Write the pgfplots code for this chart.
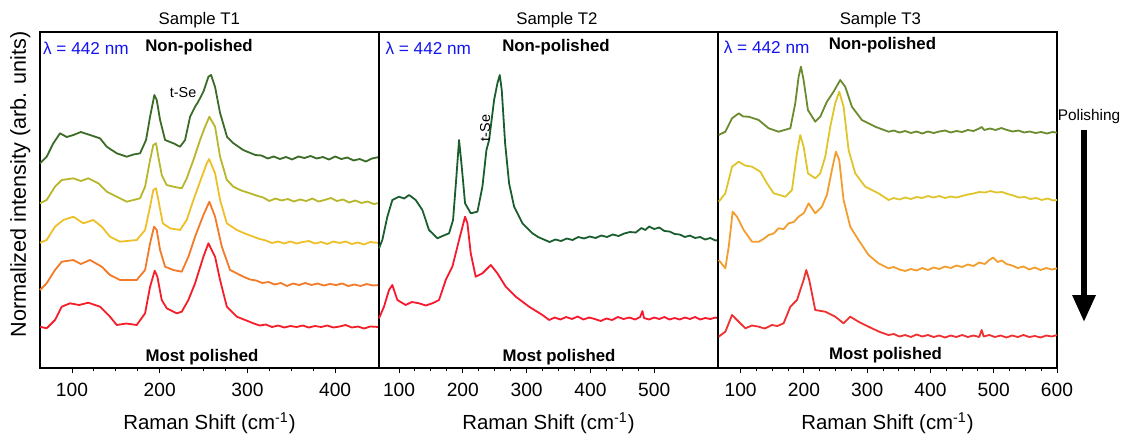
\documentclass[border=0pt]{standalone}
\usepackage{fontspec}
\setmainfont{Liberation Sans}
\usepackage{pgfplots}
\pgfplotsset{compat=1.18}
\usetikzlibrary{arrows.meta}
\definecolor{pA}{RGB}{58,108,40}
\definecolor{pB}{RGB}{184,182,42}
\definecolor{pC}{RGB}{238,192,40}
\definecolor{pD}{RGB}{243,122,40}
\definecolor{pE}{RGB}{244,30,40}
\definecolor{qA}{RGB}{26,94,46}
\definecolor{qB}{RGB}{246,24,44}
\definecolor{rA}{RGB}{106,140,46}
\definecolor{rB}{RGB}{224,196,44}
\definecolor{rC}{RGB}{242,158,46}
\definecolor{rD}{RGB}{240,48,48}
\definecolor{lamblue}{RGB}{20,20,240}
\pgfplotsset{
  panel/.style={
    scale only axis, width=169.5pt, height=168pt, anchor=south west,
    ymin=0, ymax=336, ytick=\empty,
    axis line style={line width=0.7pt},
    tick align=outside, xtick pos=left,
    major tick length=2.5pt, minor tick length=1.5pt,
    minor x tick num=3,
    every tick/.style={black, line width=0.5pt},
    /pgf/number format/assume math mode=true,
    ticklabel style={font=\fontsize{9.6}{11}\selectfont},
    xticklabel style={yshift=-1.5pt},
    xlabel={Raman Shift (cm\textsuperscript{-1})},
    xlabel style={font=\fontsize{10.2}{12}\selectfont, at={(axis description cs:0.5,-0.164)}, anchor=center},
    every axis plot/.style={line width=0.9pt, line join=round},
  }
}
\newcommand{\lam}{\fontsize{8.6}{10}\selectfont\color{lamblue}λ = 442 nm}
\newcommand{\bt}[1]{\fontsize{8.4}{10}\selectfont\bfseries #1}
\newcommand{\ttl}[2]{\node[inner sep=0pt, font=\fontsize{8.4}{10}\selectfont] at (rel axis cs:#1,1.036) {#2};}
\begin{document}
\begin{tikzpicture}
\useasboundingbox (0,0) rectangle (564pt,218pt);
% Panel 1
\begin{axis}[panel, at={(20pt,34pt)}, xmin=63.5, xmax=450, xtick={100,200,300,400},
  clip=false,
  ylabel={Normalized intensity (arb. units)},
  ylabel style={font=\fontsize{10.8}{12}\selectfont, at={(axis description cs:-0.058,0.546)}, anchor=center, rotate=0}]
\addplot[pA] coordinates {(63.5,204.7)(71.1,211.3)(78.7,224.7)(86.3,234.7)(94,231)(101.5,233)(110,236)(120.5,233)(131.9,229.7)(139.6,221.3)(151.0,214.7)(162.4,211.3)(170,213.5)(177.6,214.7)(184.4,228)(189.0,251.3)(193.9,273)(196.6,268)(200.4,248)(206.1,228)(215.6,224.7)(223.2,221.3)(228.9,228)(234.6,251.3)(240.3,261.3)(243.7,266)(249.8,276.3)(255.5,291.3)(258.6,293)(263.1,281)(268.8,255)(276.8,231)(283.7,225)(295.1,218)
(302,215.5)(309,213)(316,212.5)(323,209.5)(330,211.5)(337,209)(344,211)(351,208.5)(358,211.5)(365,210)(372,212)(379,209.5)(386,211)(393,208.5)(400,211.5)(407,209)(414,210.5)(421,207.5)(428,209)(435,206.5)(442,209.5)(450,211)};
\addplot[pB] coordinates {(63.5,164.7)(71.1,168)(80.6,181.3)(88.3,188)(101.5,189.7)(110,187)(118.6,189.7)(130.0,184.7)(139.6,176.3)(151.0,171.3)(162.4,166.3)(177.6,169.7)(183.3,181.3)(189.0,208)(192.7,223)(195.8,224.7)(198.4,211.3)(202.3,193)(208.0,183)(215.6,181.3)(225.1,179.7)(230.8,189.7)(238.4,208)(246.0,228)(251.7,241.3)(256.6,251.3)(263.1,241.3)(268.8,211.3)(276.5,188)(284.0,181.3)(293,177.5)(303.0,174.7)
(310,172.5)(318,170.5)(325,167)(332,169.5)(339,167.5)(346,169)(353,166.5)(360,168.5)(367,167)(374,169.5)(381,166.5)(388,168)(395,170)(402,167)(409,168.5)(416,165.5)(423,167.5)(430,165)(437,166.5)(444,164)(450,165)};
\addplot[pC] coordinates {(63.5,125.3)(71.1,128)(80.6,141.3)(90.1,148)(101.5,151.3)(112.9,144.7)(124.3,148)(133.9,141.3)(143.3,131.3)(154.8,126.3)(173.8,128)(183.3,138)(189.0,161.3)(192.7,178)(195.8,179.7)(198.4,168)(203.5,144.7)(211.8,139.7)(223.2,138)(230.8,148)(238.4,168)(248.0,191.3)(253.7,204.7)(256.3,209)(263.1,194.7)(268.8,168)(276.5,144.7)(287.9,138)
(297,134.5)(306.8,131.3)(314,129)(321,127.5)(328,125)(335,126.5)(342,124.5)(349,126.5)(356,124.5)(363,126)(370,127)(377,124.5)(384,126)(391,124)(398,126.5)(405,125)(412,126.5)(419,124)(426,125.5)(433,123.5)(440,126)(450,125)};
\addplot[pD] coordinates {(63.5,78)(71.1,84.7)(80.6,98)(88.3,106.3)(101.5,108)(110,104)(120.5,108)(133.9,101.3)(143.3,93)(154.8,88)(173.8,88)(183.3,98)(189.0,124.7)(193.5,141.3)(196.6,138)(200.4,118)(206.1,101.3)(215.6,98)(225.1,96.3)(232.7,111.3)(240.3,131.3)(249.8,153)(256.6,166.3)(263.1,151.3)(270.8,121.3)(280.2,98)(295.4,91.3)
(303,88.5)(310,87.5)(317,85)(324,86)(331,83.5)(338,85)(345,82)(352,84.5)(359,83)(366,85)(373,83)(380,84.5)(387,82.5)(394,84)(401,83)(408,84.5)(415,82)(422,83.5)(429,82)(436,84)(443,82.5)(450,83)};
\addplot[pE] coordinates {(63.5,41.3)(71.1,39.7)(80.6,48)(88.3,61.3)(97.7,64.7)(108,63)(118.6,65.3)(131.9,61.3)(143.3,51.3)(151.0,43)(162,44.5)(173.8,43)(183.3,54.7)(189.0,81.3)(194.3,97.3)(197.3,91.3)(202.3,68)(208.0,59.7)(219.4,54.7)(225.1,56.3)(232.7,68)(240.3,84.7)(249.8,111.3)(255.5,124.7)(263.1,111.3)(268.8,88)(276.5,61.3)(287.9,51.3)(306.8,44.7)
(314,42.5)(321,43.5)(328,41)(335,42.5)(342,40.5)(349,42)(356,41)(363,42.5)(370,40.5)(377,42)(384,41)(391,42.5)(398,40.5)(405,41.5)(412,43)(419,40.5)(426,41.5)(433,39.5)(440,41.5)(450,41)};
\node[anchor=west, inner sep=0pt] at (rel axis cs:0.008,0.952) {\lam};
\node[inner sep=0pt] at (rel axis cs:0.469,0.955) {\bt{Non-polished}};
\node[inner sep=0pt] at (rel axis cs:0.478,0.033) {\bt{Most polished}};
\node[inner sep=0pt, font=\fontsize{7.2}{8}\selectfont] at (rel axis cs:0.422,0.821) {t-Se};
\ttl{0.47}{Sample T1}
\end{axis}
% Panel 2
\begin{axis}[panel, at={(189.5pt,34pt)}, xmin=68.6, xmax=600, xtick={100,200,300,400,500}, clip=false]
\addplot[qA] coordinates {(68.6,119.7)(73.8,128)(81.7,151.3)(89.5,168)(100,171.3)(108,169.5)(115.7,173)(126.1,168)(136.6,158)(147.0,138)(160.1,129.7)(170,132.5)(178.4,134.7)(184.7,148)(189.9,191.3)(194.1,228)(198.3,201.3)(203.5,164.7)(212.4,154.7)(222.9,156.3)(230.7,181.3)(237.0,218)(241.2,228)(249.0,268)(254.2,284.7)(257.9,293)(261.0,278)(266.3,224.7)(272.5,184.7)(280.4,161.3)(293.5,144.7)(309.1,134.7)
(318,131)(327,128.5)(336,126)(345,128.5)(354,127)(363,129.5)(372,128)(381,131)(390,129.5)(399,131.5)(408,130)(417,132.5)(426,131)(435,133.5)(444,132)(453,134.5)(462,136)(471,135.5)(480,140)(486,138)(492,141.5)(500,139)(508,140.5)(516,137)(524,136.5)(532,134)(540,133.5)(548,131)(556,132.5)(564,130)(572,131)(580,128.5)(588,130)(596,127.5)(600,128)};
\addplot[qB] coordinates {(68.6,49.7)(76.4,61.3)(84.3,78)(89.5,83)(97.4,68)(110.4,63)(120,66)(131.3,64.7)(142,62.5)(152.3,64.7)(162.7,68)(173.2,88)(183.6,101.3)(194.1,128)(203.5,151.3)(207.2,144.7)(212.4,114.7)(220.2,91.3)(230.7,94.7)(243.8,103)(254.2,94.7)(267.3,81.3)(283.0,71.3)(303.9,61.3)(324.8,53)(335.3,48)
(344,50.5)(353,48.5)(362,51)(371,49)(380,51.5)(389,48.5)(398,50.5)(407,49)(416,47)(425,49.5)(434,48)(443,51)(452,49)(461,50.5)(470,48.5)(478,51)(481.5,57)(484,50)(492,48.5)(500,50.5)(508,49)(516,51)(524,48.5)(532,50)(540,48.5)(548,50.5)(556,49)(564,51)(572,48.5)(580,50)(588,49)(596,50.5)(600,49.7)};
\node[anchor=west, inner sep=0pt] at (rel axis cs:0.018,0.952) {\lam};
\node[inner sep=0pt] at (rel axis cs:0.522,0.955) {\bt{Non-polished}};
\node[inner sep=0pt] at (rel axis cs:0.531,0.033) {\bt{Most polished}};
\node[inner sep=0pt, rotate=90, font=\fontsize{7.2}{8}\selectfont] at (rel axis cs:0.313,0.714) {t-Se};
\ttl{0.525}{Sample T2}
\end{axis}
% Panel 3
\begin{axis}[panel, at={(359pt,34pt)}, xmin=64.2, xmax=600, xtick={100,200,300,400,500,600}, clip=false]
\addplot[rA] coordinates {(65.3,233)(75.8,236.3)(86.4,249.7)(96.9,254.7)(104,251.5)(112.7,251.3)(128.5,248)(144.2,239.7)(160.0,236.3)(178.5,239.7)(186.3,264.7)(191.6,291.3)(195.3,301.3)(199.5,288)(206.3,258)(217.9,246.3)(225.8,251.3)(236.3,266.3)(246.9,276.3)(257.4,288)(265.3,281.3)(275.8,261.3)(291.6,248)(312.6,241.3)(333.7,236.3)
(342,237.5)(351,235.5)(360,237)(369,235)(378,236.5)(387,234.5)(396,236.5)(405,235)(414,236.5)(423,237.5)(432,235.5)(441,237)(450,236)(459,238)(468,237)(477,239.5)(481,241)(485,238)(494,239.5)(503,238)(512,240)(521,238)(530,236.5)(539,237.5)(548,235.5)(557,236.5)(566,235)(575,236)(584,234.5)(593,236)(600,235.3)};
\addplot[rB] coordinates {(65.3,166.3)(75.8,174.7)(86.4,201.3)(96.9,206.3)(107,202.5)(117.9,201.3)(131.1,196.3)(141.6,184.7)(152.1,174.7)(170.6,171.3)(181.1,178)(189.0,214.7)(194.2,233)(199.5,221.3)(206.3,194.7)(217.9,189.7)(225.8,194.7)(233.7,211.3)(241.6,241.3)(249.5,264.7)(255.8,276.3)(262.7,261.3)(270.6,218)(281.1,194.7)(296.9,181.3)(317.9,174.7)(333.7,168)
(342,170)(351,168.5)(360,170.5)(369,169)(378,171)(387,170)(396,172)(405,170.5)(414,172)(423,170)(432,171.5)(441,170.5)(450,172)(459,173.5)(468,174.5)(477,176)(486,175.5)(495,177)(504,175.5)(513,176)(522,174)(531,172.5)(540,170.5)(549,171)(558,169)(567,170)(576,168)(585,169.5)(594,167.5)(600,168)};
\addplot[rC] coordinates {(65.3,108)(75.8,99.7)(81.1,121.3)(87.4,156.3)(94.2,151.3)(104.8,138)(117.9,126.3)(128.5,126.3)(136,129)(144.2,133)(152,134.5)(160.0,139.7)(168,139)(175.8,144.7)(184,146)(191.6,151.3)(200,155)(207.4,164.7)(217.9,154.7)(228.4,161.3)(236.3,173)(244.2,198)(250.5,216.3)(255.8,208)(262.7,168)(273.2,141.3)(286.3,128)(302.1,113)(317.9,104.7)(333.7,99.7)
(342,101)(351,98.5)(360,97)(369,99)(378,97.5)(387,100)(396,98)(405,100.5)(414,99)(423,101.5)(432,100)(441,102.5)(450,101)(459,103.5)(468,102)(477,105.5)(486,104)(492,107.5)(499,110.5)(506,106)(513,107.5)(520,104)(529,102.5)(538,100)(547,101.5)(556,98.5)(565,100.5)(574,98)(583,100)(592,98.5)(600,99.7)};
\addplot[rD] coordinates {(65.3,31.3)(75.8,36.3)(86.4,53)(94.2,48)(107.4,39.7)(118,42.5)(128.5,41.3)(138,39.5)(149.5,43)(158,42)(167.9,44.7)(178.5,61.3)(189.0,68)(199.5,88)(203.7,98)(208.4,88)(217.9,58)(233.7,56.3)(249.5,51.3)(262.7,44.7)(273.2,51.3)(286.3,46.3)(307.4,39.7)(320,36)(333.7,33)
(342,34)(351,31.5)(360,33)(369,31)(378,33.5)(387,31.5)(396,33)(405,31)(414,32.5)(423,30.5)(432,32.5)(441,31)(450,33)(459,31)(468,32.5)(477,31)(481,38)(484,31.5)(493,33)(502,31)(511,32.5)(520,30.5)(529,32.5)(538,31)(547,33)(556,31)(565,32)(574,30.5)(583,32.5)(592,31.5)(600,33)};
\node[anchor=west, inner sep=0pt] at (rel axis cs:0.016,0.955) {\lam};
\node[inner sep=0pt] at (rel axis cs:0.485,0.961) {\bt{Non-polished}};
\node[inner sep=0pt] at (rel axis cs:0.494,0.039) {\bt{Most polished}};
\ttl{0.479}{Sample T3}
\end{axis}
% Polishing arrow
\node[font=\fontsize{7.7}{9}\selectfont, inner sep=0pt] at (544.5pt,159.5pt) {Polishing};
\draw[line width=3pt, -{Triangle[width=11pt,length=13.5pt]}] (542pt,153pt) -- (542pt,57pt);
\end{tikzpicture}
\end{document}
